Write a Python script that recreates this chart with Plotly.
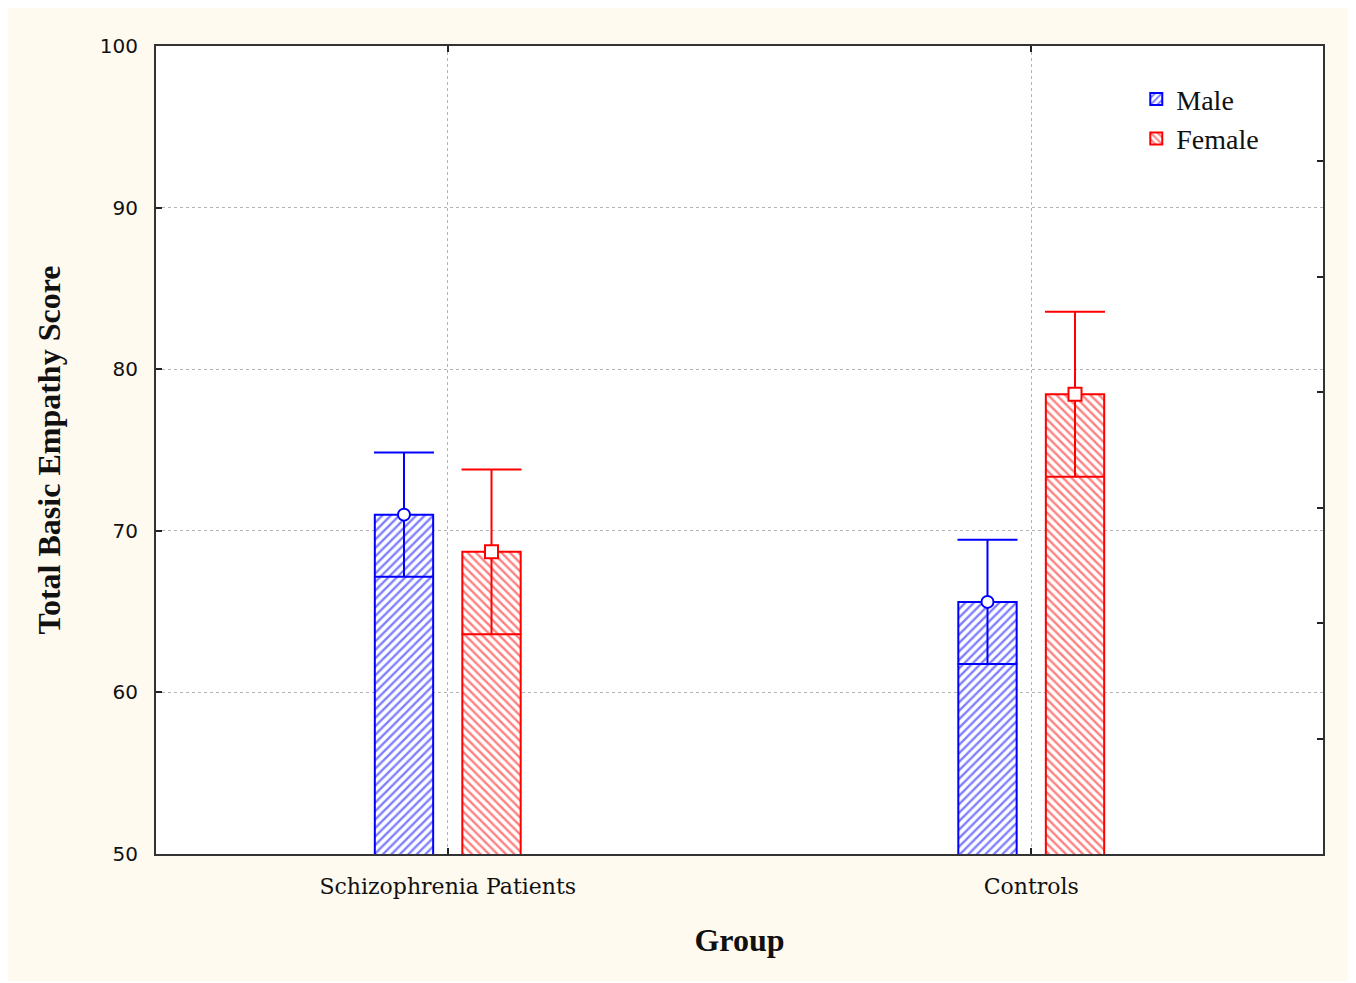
import plotly.graph_objects as go

groups = ["Schizophrenia Patients", "Controls"]
male_mean = [71.0, 65.6]
male_err = [3.85, 3.85]
female_mean = [68.7, 78.45]
female_err = [5.1, 5.1]

BLUE = "#0000ff"
RED = "#ff0000"
CREAM = "#fffaf0"

pos = list(range(len(groups)))
bar_w = 0.1
off = 0.075
male_x = [p - off for p in pos]
female_x = [p + off for p in pos]

fig = go.Figure()

fig.add_trace(go.Bar(
    x=male_x, y=male_mean, width=bar_w, name="Male",
    marker=dict(color="white", line=dict(color=BLUE, width=2),
                pattern=dict(shape="/", fgcolor=BLUE, bgcolor="white", size=6, solidity=0.4)),
    error_y=dict(type="data", array=male_err, color=BLUE, thickness=2, width=30),
))
fig.add_trace(go.Bar(
    x=female_x, y=female_mean, width=bar_w, name="Female",
    marker=dict(color="white", line=dict(color=RED, width=2),
                pattern=dict(shape="\\", fgcolor=RED, bgcolor="white", size=6, solidity=0.4)),
    error_y=dict(type="data", array=female_err, color=RED, thickness=2, width=30),
))
fig.add_trace(go.Scatter(
    x=male_x, y=male_mean, mode="markers", showlegend=False,
    marker=dict(symbol="circle", size=12, color="white", line=dict(color=BLUE, width=2)),
))
fig.add_trace(go.Scatter(
    x=female_x, y=female_mean, mode="markers", showlegend=False,
    marker=dict(symbol="square", size=13, color="white", line=dict(color=RED, width=2)),
))
# invisible trace to activate right-side tick axis
fig.add_trace(go.Scatter(x=[None], y=[None], yaxis="y2", showlegend=False, hoverinfo="skip"))

fig.update_layout(
    width=1340, height=973,
    margin=dict(l=148, r=25, t=38, b=127),
    paper_bgcolor=CREAM,
    plot_bgcolor="white",
    barmode="overlay",
    showlegend=True,
    legend=dict(x=0.84, y=0.965, xanchor="left", yanchor="top",
                bgcolor="rgba(0,0,0,0)", font=dict(family="Liberation Serif", size=28, color="#111"),
                tracegroupgap=0),
    xaxis=dict(
        range=[-0.5, 1.5], tickvals=pos, ticktext=groups,
        showline=True, linecolor="#333", linewidth=2, mirror="ticks",
        ticks="inside", ticklen=6, tickcolor="#222", tickwidth=2,
        showgrid=True, gridcolor="#b4b4b4", griddash="dot", gridwidth=1,
        zeroline=False, ticklabelstandoff=12,
        tickfont=dict(family="DejaVu Serif", size=22, color="#111"),
        title=dict(text="<b>Group</b>", font=dict(family="Liberation Serif", size=32, color="#111"), standoff=30),
    ),
    yaxis=dict(
        range=[50, 100], dtick=10,
        showline=True, linecolor="#333", linewidth=2, mirror=True,
        ticks="inside", ticklen=6, tickcolor="#222", tickwidth=2,
        showgrid=True, gridcolor="#b4b4b4", griddash="dot", gridwidth=1,
        zeroline=False, ticklabelstandoff=12,
        tickfont=dict(family="DejaVu Sans", size=20, color="#111"),
        title=dict(text="<b>Total Basic Empathy Score</b>", font=dict(family="Liberation Serif", size=32, color="#111"), standoff=30),
    ),
    yaxis2=dict(
        overlaying="y", side="right", range=[0, 7], dtick=1,
        showticklabels=False, ticks="inside", ticklen=6, tickcolor="#222", tickwidth=2,
        showgrid=False, zeroline=False, showline=False,
    ),
)

fig.write_html("out.html")
